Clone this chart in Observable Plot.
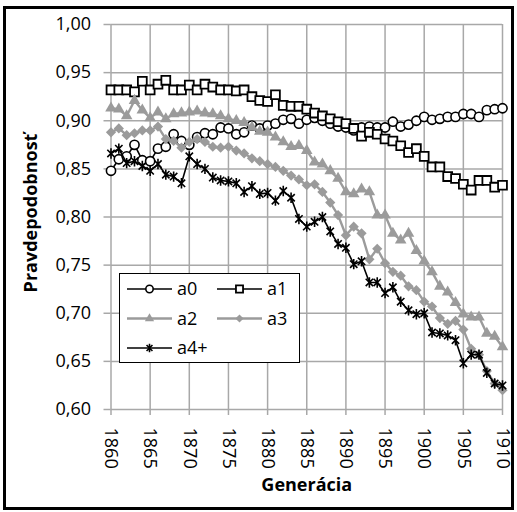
<!DOCTYPE html>
<html><head><meta charset="utf-8">
<script src="https://cdn.jsdelivr.net/npm/d3@7"></script>
<script src="https://cdn.jsdelivr.net/npm/@observablehq/plot@0.6"></script>
<style>
body{margin:0;background:#fff;}
#wrap{position:relative;width:517px;height:512px;font-family:"Open Sans",sans-serif;overflow:hidden;}
#chart svg{display:block;}
#frame{position:absolute;left:3px;top:6px;width:511px;height:504px;border:3px solid #000;box-sizing:border-box;pointer-events:none;}
#legend{position:absolute;left:119px;top:273px;width:181px;height:90px;border:1px solid #000;background:#fff;box-sizing:border-box;}
#legend svg{display:block;}
</style></head><body>
<div id="wrap"><div id="chart"></div><div id="legend"></div><div id="frame"></div></div>
<script>
const years = [1860,1861,1862,1863,1864,1865,1866,1867,1868,1869,1870,1871,1872,1873,1874,1875,1876,1877,1878,1879,1880,1881,1882,1883,1884,1885,1886,1887,1888,1889,1890,1891,1892,1893,1894,1895,1896,1897,1898,1899,1900,1901,1902,1903,1904,1905,1906,1907,1908,1909,1910];
const a0 = [0.848,0.860,0.863,0.875,0.859,0.858,0.871,0.873,0.886,0.879,0.875,0.883,0.887,0.886,0.893,0.892,0.886,0.888,0.895,0.892,0.895,0.897,0.901,0.902,0.897,0.901,0.903,0.900,0.897,0.894,0.893,0.890,0.893,0.894,0.893,0.893,0.899,0.894,0.896,0.900,0.904,0.901,0.902,0.904,0.904,0.907,0.907,0.904,0.911,0.912,0.913];
const a1 = [0.932,0.932,0.932,0.930,0.941,0.932,0.938,0.942,0.932,0.932,0.937,0.932,0.938,0.935,0.932,0.932,0.931,0.932,0.925,0.921,0.920,0.927,0.916,0.915,0.915,0.912,0.908,0.905,0.902,0.899,0.897,0.892,0.884,0.888,0.886,0.881,0.879,0.874,0.867,0.871,0.863,0.852,0.852,0.842,0.840,0.834,0.828,0.838,0.838,0.831,0.833];
const a2 = [0.913,0.912,0.905,0.921,0.911,0.903,0.909,0.902,0.907,0.908,0.909,0.910,0.908,0.907,0.905,0.902,0.900,0.898,0.893,0.889,0.888,0.883,0.878,0.873,0.874,0.869,0.857,0.855,0.848,0.840,0.826,0.824,0.829,0.826,0.802,0.802,0.783,0.776,0.783,0.765,0.754,0.743,0.728,0.722,0.711,0.699,0.696,0.696,0.679,0.676,0.665];
const a3 = [0.888,0.892,0.885,0.887,0.890,0.890,0.894,0.881,0.879,0.872,0.878,0.881,0.878,0.873,0.872,0.873,0.869,0.866,0.861,0.858,0.855,0.852,0.848,0.843,0.839,0.833,0.834,0.826,0.815,0.802,0.781,0.790,0.783,0.756,0.767,0.752,0.743,0.739,0.728,0.724,0.712,0.707,0.695,0.689,0.692,0.683,0.663,0.657,0.640,0.627,0.620];
const a4 = [0.866,0.871,0.856,0.858,0.853,0.848,0.855,0.844,0.842,0.835,0.863,0.855,0.850,0.841,0.838,0.837,0.835,0.826,0.832,0.824,0.825,0.817,0.827,0.820,0.798,0.790,0.795,0.800,0.785,0.772,0.768,0.751,0.754,0.732,0.732,0.721,0.727,0.712,0.703,0.699,0.700,0.680,0.679,0.677,0.672,0.648,0.657,0.657,0.638,0.627,0.625];
const seriesNames = ["a0","a1","a2","a3","a4+"];
const xTicks = [1860,1865,1870,1875,1880,1885,1890,1895,1900,1905,1910];
const yTicks = [0.60,0.65,0.70,0.75,0.80,0.85,0.90,0.95,1.00];
const xTitle = "Generácia";
const yTitle = "Pravdepodobnosť";

// Excel-like star marker: vertical bar plus an X
const starSymbol = {
  draw(context, size) {
    const r = Math.sqrt(size / Math.PI);
    const d = r * Math.SQRT1_2;
    context.moveTo(0, -r); context.lineTo(0, r);
    context.moveTo(-d, -d); context.lineTo(d, d);
    context.moveTo(-d, d); context.lineTo(d, -d);
  }
};

const grey = "#9b9b9b";
const styles = [
  {symbol: "circle", r: 4.6, fill: "#fff", stroke: "#000", line: "#000", lw: 1.6, sw: 1.6},
  {symbol: "square", r: 5.0, fill: "#fff", stroke: "#000", line: "#000", lw: 1.6, sw: 1.8},
  {symbol: "triangle", r: 4.3, fill: grey, stroke: "none", line: grey, lw: 2.4, sw: 0},
  {symbol: "diamond2", r: 4.6, fill: grey, stroke: "none", line: grey, lw: 2.4, sw: 0},
  {symbol: starSymbol, r: 5.2, fill: "none", stroke: "#000", line: "#000", lw: 1.6, sw: 1.6}
];
const values = [a0, a1, a2, a3, a4];
const tables = values.map((vals, i) => years.map((year, j) => ({year, value: vals[j], series: seriesNames[i]})));

const marks = [
  Plot.gridX(xTicks, {stroke: "#a8a8a8", strokeOpacity: 1, strokeWidth: 1.5}),
  Plot.gridY(yTicks, {stroke: "#a8a8a8", strokeOpacity: 1, strokeWidth: 1.5}),
  Plot.axisX(xTicks, {tickRotate: 90, tickSize: 6, tickPadding: 12, stroke: "#a8a8a8", strokeWidth: 1.5, fill: "#000",
    tickFormat: d => String(d), label: null}),
  Plot.axisY(yTicks, {tickSize: 7, tickPadding: 13, stroke: "#a8a8a8", strokeWidth: 1.5, fill: "#000",
    tickFormat: d => d.toFixed(2).replace(".", ","), label: null}),
  Plot.text([xTitle], {text: d => d, frameAnchor: "bottom", dy: 81, fontWeight: "bold", fontSize: 18}),
  Plot.text([yTitle], {text: d => d, frameAnchor: "left", textAnchor: "middle", dx: -80, dy: -4, rotate: -90, fontWeight: "bold", fontSize: 18})
];
tables.forEach((t, i) => {
  const s = styles[i];
  marks.push(Plot.line(t, {x: "year", y: "value", stroke: s.line, strokeWidth: s.lw}));
  marks.push(Plot.dot(t, {x: "year", y: "value", symbol: s.symbol, r: s.r, fill: s.fill, stroke: s.stroke, strokeWidth: s.sw}));
});

const chart = Plot.plot({
  width: 517, height: 512,
  marginLeft: 110.5, marginRight: 15, marginTop: 24, marginBottom: 103,
  style: {fontFamily: "'Open Sans', sans-serif", fontSize: "18px", color: "#000", background: "transparent", overflow: "visible"},
  x: {domain: [1860, 1910]},
  y: {domain: [0.6, 1.0]},
  marks
});
document.getElementById("chart").appendChild(chart);

// Legend
const lg = d3.select("#legend").append("svg").attr("width", 179).attr("height", 88)
  .style("font-family", "'Open Sans', sans-serif").style("font-size", "18px");
const symMap = {circle: d3.symbolCircle, square: d3.symbolSquare, triangle: d3.symbolTriangle, diamond2: d3.symbolDiamond2};
seriesNames.forEach((name, i) => {
  const s = styles[i];
  const col = i % 2, row = Math.floor(i / 2);
  const x0 = 7 + col * 90, y0 = 15 + row * 29.5;
  const g = lg.append("g").attr("transform", `translate(${x0},${y0})`);
  g.append("line").attr("x1", 0).attr("x2", 45).attr("y1", 0).attr("y2", 0).attr("stroke", s.line).attr("stroke-width", s.lw);
  const type = typeof s.symbol === "string" ? symMap[s.symbol] : s.symbol;
  const rr = s.r * 0.8;
  g.append("path").attr("transform", "translate(22.5,0)")
    .attr("d", d3.symbol(type, Math.PI * rr * rr)())
    .attr("fill", s.fill).attr("stroke", s.stroke).attr("stroke-width", s.sw);
  g.append("text").attr("x", 50).attr("y", 0).attr("dy", "0.35em").text(name);
});
</script>
</body></html>
